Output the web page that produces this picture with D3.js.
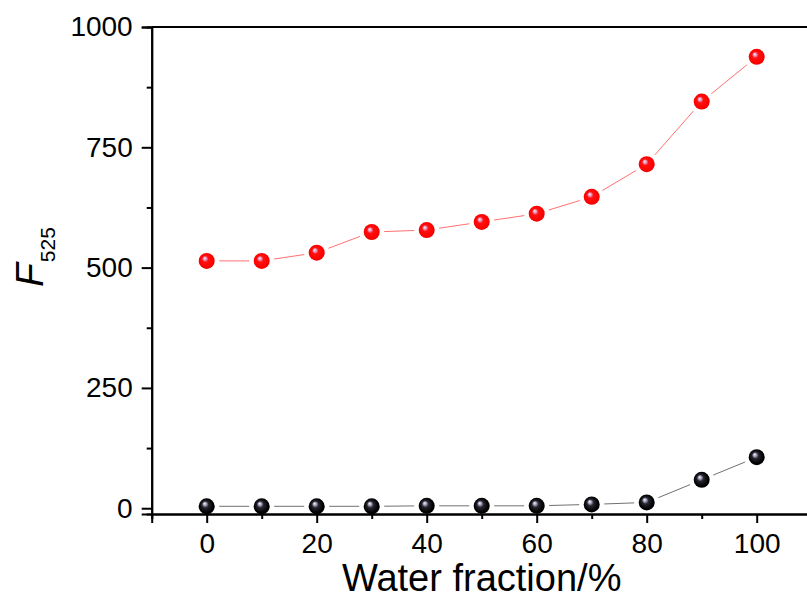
<!DOCTYPE html>
<html>
<head>
<meta charset="utf-8">
<script src="https://cdn.jsdelivr.net/npm/d3@7/dist/d3.min.js"></script>
<style>
  html, body { margin: 0; padding: 0; background: #fff; }
  svg { display: block; }
  text { font-family: "Liberation Sans", Arial, sans-serif; fill: #000; }
</style>
</head>
<body>
<svg id="chart" width="807" height="600"></svg>
<script>
// ---- data ----
const waterFraction = [0, 10, 20, 30, 40, 50, 60, 70, 80, 90, 100];
const redSeries = [514, 514, 531, 574, 578, 595, 612, 647, 715, 845, 938];
const blackSeries = [4, 4, 4, 4, 5, 5, 5, 8, 12, 59, 106];
const xMajorTicks = [0, 20, 40, 60, 80, 100];
const xMinorTicks = [-10, 10, 30, 50, 70, 90, 110];
const yMajorTicks = [0, 250, 500, 750, 1000];
const yMinorTicks = [125, 375, 625, 875];
const xTitle = "Water fraction/%";

// ---- layout ----
const svg = d3.select("#chart");
const mLeft = 151.7, mRight = 811.7, mTop = 27, mBottom = 514;

const x = d3.scaleLinear().domain([-10, 110]).range([mLeft, mRight]);
const y = d3.scaleLinear().domain([-12, 1000]).range([mBottom, mTop]);

// gradients
const defs = svg.append("defs");
function sphereGrad(id, stops) {
  const g = defs.append("radialGradient").attr("id", id)
    .attr("cx", "0.5").attr("cy", "0.5").attr("r", "0.55")
    .attr("fx", "0.36").attr("fy", "0.32");
  stops.forEach(s => g.append("stop").attr("offset", s[0]).attr("stop-color", s[1]));
}
sphereGrad("gRed", [["0%", "#f6eaf4"], ["18%", "#e79ac0"], ["36%", "#ff1010"], ["80%", "#ff0000"], ["100%", "#d80000"]]);
sphereGrad("gBlack", [["0%", "#f4f4ff"], ["18%", "#a4a4bc"], ["38%", "#25252e"], ["80%", "#000000"], ["100%", "#000000"]]);

// axes
const fontSize = 28;
const yAxisMajor = d3.axisLeft(y).tickValues(yMajorTicks).tickSize(10).tickPadding(9).tickFormat(d3.format("d"));
const yAxisMinor = d3.axisLeft(y).tickValues(yMinorTicks).tickSize(5).tickFormat("");
const xAxisMajor = d3.axisBottom(x).tickValues(xMajorTicks).tickSize(9).tickPadding(10).tickFormat(d3.format("d"));
const xAxisMinor = d3.axisBottom(x).tickValues(xMinorTicks).tickSize(5).tickFormat("");

function styleAxis(g) {
  g.select(".domain").attr("stroke", "#000").attr("stroke-width", 2);
  g.selectAll(".tick line").attr("stroke", "#000").attr("stroke-width", 2);
  g.selectAll(".tick text").attr("font-size", fontSize)
    .attr("font-family", "'Liberation Sans', Arial, sans-serif").attr("fill", "#000");
}

svg.append("g").attr("transform", `translate(${mLeft},0)`).call(yAxisMinor).call(styleAxis);
svg.append("g").attr("transform", `translate(${mLeft},0)`).call(yAxisMajor).call(styleAxis);
svg.append("g").attr("transform", `translate(0,${mBottom})`).call(xAxisMinor).call(styleAxis);
svg.append("g").attr("transform", `translate(0,${mBottom})`).call(xAxisMajor).call(styleAxis);

// top and right frame
svg.append("line").attr("x1", mLeft).attr("x2", mRight).attr("y1", mTop).attr("y2", mTop)
  .attr("stroke", "#000").attr("stroke-width", 2);
svg.append("line").attr("x1", mRight).attr("x2", mRight).attr("y1", mTop).attr("y2", mBottom)
  .attr("stroke", "#000").attr("stroke-width", 2);

// series lines with gaps around markers
const gap = 12.5;
function drawSeries(vals, lineColor, grad) {
  const pts = waterFraction.map((d, i) => [x(d), y(vals[i])]);
  const g = svg.append("g");
  for (let i = 0; i < pts.length - 1; i++) {
    const [x1, y1] = pts[i], [x2, y2] = pts[i + 1];
    const dx = x2 - x1, dy = y2 - y1, len = Math.hypot(dx, dy);
    if (len <= 2 * gap) continue;
    const ux = dx / len, uy = dy / len;
    g.append("line")
      .attr("x1", x1 + ux * gap).attr("y1", y1 + uy * gap)
      .attr("x2", x2 - ux * gap).attr("y2", y2 - uy * gap)
      .attr("stroke", lineColor).attr("stroke-width", 1);
  }
  g.selectAll("circle").data(pts).enter().append("circle")
    .attr("cx", d => d[0]).attr("cy", d => d[1]).attr("r", 8)
    .attr("fill", `url(#${grad})`);
}
drawSeries(redSeries, "#ff7070", "gRed");
drawSeries(blackSeries, "#707070", "gBlack");

// axis titles
svg.append("text")
  .attr("x", (mLeft + mRight) / 2).attr("y", 591)
  .attr("text-anchor", "middle").attr("font-size", 38)
  .text(xTitle);

const yt = svg.append("text")
  .attr("transform", "translate(43,287) rotate(-90)")
  .attr("text-anchor", "start");
yt.append("tspan").attr("font-style", "italic").attr("font-size", 39).text("F");
yt.append("tspan").attr("font-size", 21).attr("dy", 12).attr("dx", 1).text("525");
</script>
</body>
</html>
